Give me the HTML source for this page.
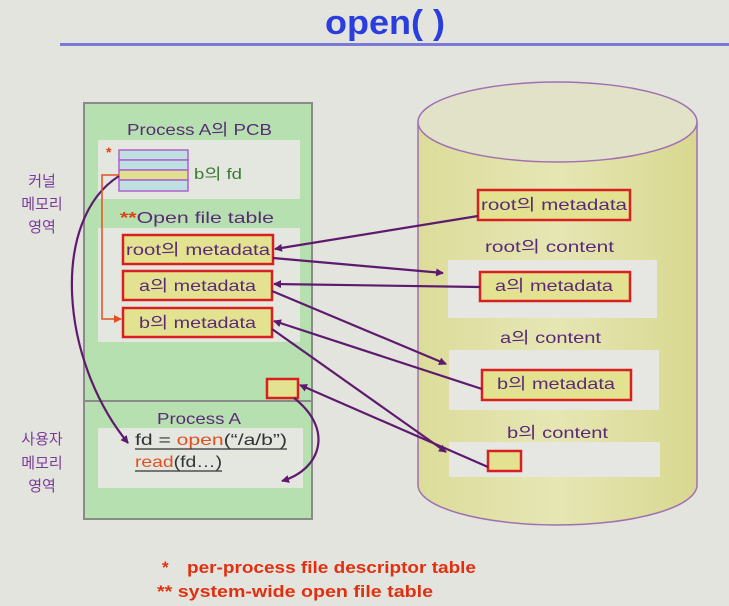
<!DOCTYPE html>
<html><head><meta charset="utf-8"><style>
body{margin:0;width:729px;height:601px;background:#e4e4de;overflow:hidden}
svg text{font-family:"Liberation Sans","Noto Sans CJK KR",sans-serif}
</style></head><body>
<svg width="729" height="601" viewBox="0 0 729 601">
<defs>
<marker id="ah" markerWidth="8" markerHeight="8" refX="7" refY="4" orient="auto" markerUnits="userSpaceOnUse"><path d="M0,0 L8,4 L0,8 z" fill="#5e1a6e"/></marker>
<marker id="ao" markerWidth="8" markerHeight="8" refX="7" refY="4" orient="auto" markerUnits="userSpaceOnUse"><path d="M0,0 L8,4 L0,8 z" fill="#e05020"/></marker>
<linearGradient id="cyl" x1="0" x2="1"><stop offset="0" stop-color="#dcdc9a"/><stop offset="0.5" stop-color="#e6e6b4"/><stop offset="1" stop-color="#d8d890"/></linearGradient>
</defs>
<text x="325" y="34" textLength="120" lengthAdjust="spacingAndGlyphs" font-size="34" font-weight="bold" fill="#2a3ee0">open( )</text>
<rect x="60" y="43" width="669" height="3" fill="#7a78d8"/>
<rect x="84" y="103" width="228" height="416" fill="#b6e0b0" stroke="#8a8a8a" stroke-width="2"/>
<line x1="84" y1="401" x2="312" y2="401" stroke="#8a8a8a" stroke-width="2"/>
<text x="127" y="135" textLength="145" lengthAdjust="spacingAndGlyphs" font-size="16" fill="#5a2a78">Process A의 PCB</text>
<rect x="98" y="140" width="202" height="59" fill="#e4e6e0"/>
<text x="106" y="157" font-size="14" font-weight="bold" fill="#e04010">*</text>
<g stroke="#b060d0" stroke-width="1.5">
<rect x="119" y="150" width="69" height="10" fill="#bfe0e0"/>
<rect x="119" y="160" width="69" height="10" fill="#bfe0e0"/>
<rect x="119" y="170" width="69" height="10" fill="#e0e090"/>
<rect x="119" y="180" width="69" height="11" fill="#bfe0e0"/>
</g>
<text x="194" y="179" textLength="48" lengthAdjust="spacingAndGlyphs" font-size="15" fill="#3a7a30">b의 fd</text>
<text x="120" y="223" textLength="154" lengthAdjust="spacingAndGlyphs" font-size="16" fill="#5a2a78"><tspan fill="#e04010" font-weight="bold">**</tspan>Open file table</text>
<rect x="98" y="228" width="202" height="114" fill="#e4e6e0"/>
<g stroke="#d82020" stroke-width="2.5" fill="#e2e290">
<rect x="123" y="235" width="150" height="29"/>
<rect x="123" y="271" width="149" height="29"/>
<rect x="123" y="308" width="149" height="29"/>
<rect x="267" y="379" width="31" height="19"/>
<rect x="247" y="466" width="33" height="20"/>
</g>
<g font-size="16" fill="#5a2a78">
<text x="126" y="255" textLength="144" lengthAdjust="spacingAndGlyphs">root의 metadata</text>
<text x="139" y="291" textLength="117" lengthAdjust="spacingAndGlyphs">a의 metadata</text>
<text x="139" y="328" textLength="117" lengthAdjust="spacingAndGlyphs">b의 metadata</text>
</g>
<text x="157" y="424" textLength="84" lengthAdjust="spacingAndGlyphs" font-size="16" fill="#5a2a78">Process A</text>
<rect x="98" y="428" width="205" height="60" fill="#e4e6e0"/>
<text x="135" y="445" textLength="152" lengthAdjust="spacingAndGlyphs" font-size="16" fill="#333">fd = <tspan fill="#e05020">open</tspan>(“/a/b”)</text>
<line x1="135" y1="449" x2="287" y2="449" stroke="#333" stroke-width="1.2"/>
<text x="135" y="467" textLength="87" lengthAdjust="spacingAndGlyphs" font-size="16" fill="#333"><tspan fill="#e05020">read</tspan>(fd…)</text>
<line x1="135" y1="471" x2="222" y2="471" stroke="#333" stroke-width="1.2"/>
<g font-size="15" fill="#7a3a9a" text-anchor="middle">
<text x="42" y="186">커널</text><text x="42" y="209">메모리</text><text x="42" y="232">영역</text>
<text x="42" y="444">사용자</text><text x="42" y="468">메모리</text><text x="42" y="491">영역</text>
</g>
<path d="M418,122 L418,485 A139.5,40 0 0 0 697,485 L697,122" fill="url(#cyl)" stroke="#a070b0" stroke-width="1.5"/>
<ellipse cx="557.5" cy="122" rx="139.5" ry="40" fill="#e2e2c8" stroke="#a070b0" stroke-width="1.5"/>
<rect x="448" y="260" width="209" height="58" fill="#e6e6e2"/>
<rect x="449" y="350" width="210" height="60" fill="#e6e6e2"/>
<rect x="449" y="442" width="211" height="35" fill="#e6e6e2"/>
<g stroke="#d82020" stroke-width="2.5" fill="#e2e290">
<rect x="478" y="190" width="152" height="30"/>
<rect x="480" y="272" width="150" height="29"/>
<rect x="482" y="370" width="149" height="30"/>
<rect x="488" y="451" width="33" height="20"/>
</g>
<g font-size="16" fill="#5a2a78">
<text x="481" y="210" textLength="146" lengthAdjust="spacingAndGlyphs">root의 metadata</text>
<text x="485" y="252" textLength="129" lengthAdjust="spacingAndGlyphs">root의 content</text>
<text x="495" y="291" textLength="118" lengthAdjust="spacingAndGlyphs">a의 metadata</text>
<text x="500" y="343" textLength="101" lengthAdjust="spacingAndGlyphs">a의 content</text>
<text x="497" y="389" textLength="118" lengthAdjust="spacingAndGlyphs">b의 metadata</text>
<text x="507" y="438" textLength="101" lengthAdjust="spacingAndGlyphs">b의 content</text>
</g>
<g stroke="#5e1a6e" stroke-width="2.2" fill="none" marker-end="url(#ah)">
<path d="M478,216 L275,249"/>
<path d="M273,258 L443,273"/>
<path d="M480,287 L274,284"/>
<path d="M272,291 L446,364"/>
<path d="M482,389 L274,321"/>
<path d="M272,329 L446,452"/>
<path d="M488,467 L300,385"/>
<path d="M294,398 C335,430 320,470 282,481"/>
<path d="M119,176 C50,220 60,360 128,443"/>
</g>
<path d="M119,175 L102,175 L102,319 L121,319" stroke="#e05020" stroke-width="1.5" fill="none" marker-end="url(#ao)"/>
<g font-size="17" font-weight="bold" fill="#e03010">
<text x="162" y="573">*</text>
<text x="187" y="573" textLength="289" lengthAdjust="spacingAndGlyphs">per-process file descriptor table</text>
<text x="157" y="597" textLength="276" lengthAdjust="spacingAndGlyphs">** system-wide open file table</text>
</g>
</svg>
</body></html>
